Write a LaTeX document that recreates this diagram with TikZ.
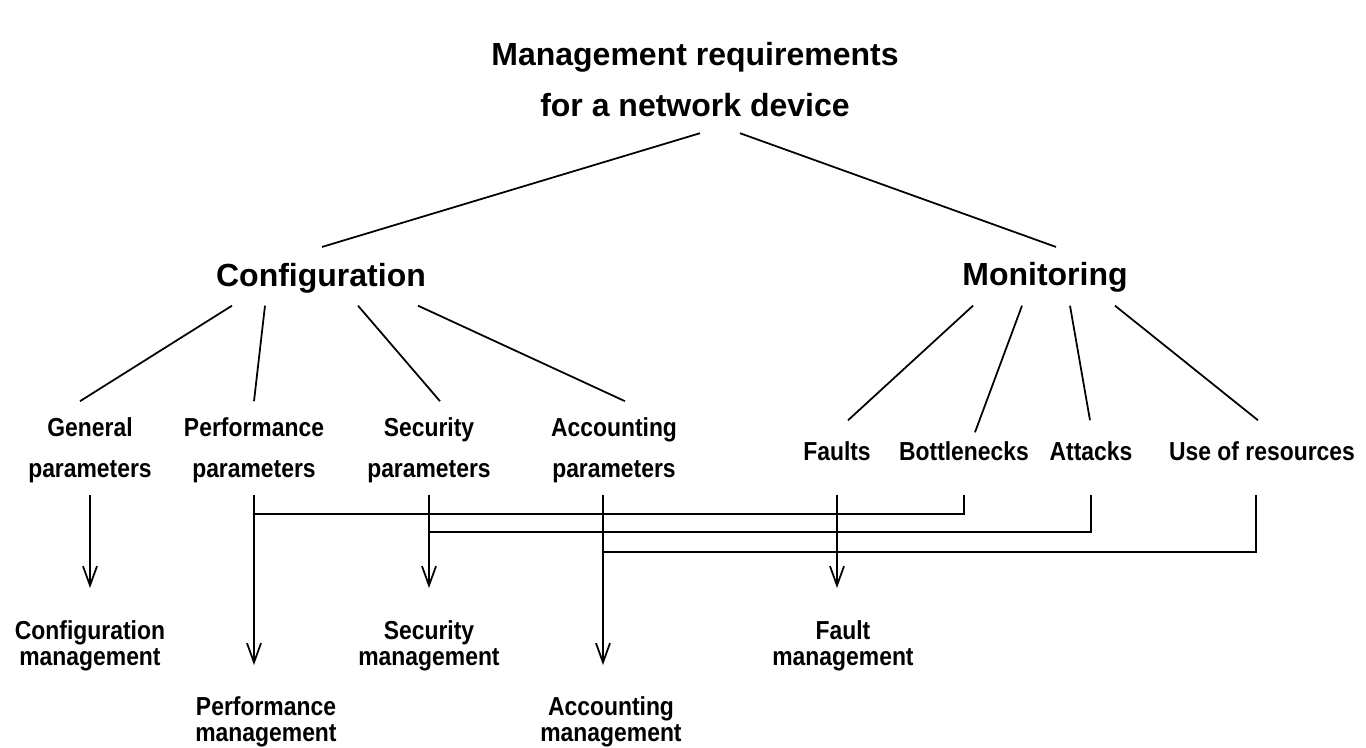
\documentclass[tikz,border=0pt]{standalone}
\usepackage{fontspec}
\setmainfont{Liberation Sans}
\newfontfamily\narrowsans{Liberation Sans}[FakeStretch=0.88]
\usetikzlibrary{calc,arrows.meta}
\tikzset{>={Straight Barb[length=5.5pt,width=4pt]}}

\begin{document}
\begin{tikzpicture}[x=0.01cm,y=-0.01cm,line width=0.5pt,
  every node/.style={inner sep=0pt,anchor=base,align=center},
  heading/.style={font=\bfseries\fontsize{9.1}{14.5}\selectfont},
  branch/.style={font=\bfseries\fontsize{9.1}{11}\selectfont},
  leaf/.style={font=\narrowsans\bfseries\fontsize{7.4}{11.4}\selectfont},
  outcome/.style={font=\narrowsans\bfseries\fontsize{7.4}{7.4}\selectfont}]
  \useasboundingbox (0,0) rectangle (1366,747);
  % title and the two branches
  \node[heading] (title) at (695,116) {Management requirements\\for a network device};
  \node[branch] (config) at (321,286) {Configuration};
  \node[branch] (monitor) at (1045,285) {Monitoring};
  \draw ($(title.south)+(5,16)$) -- ($(config.north)+(1,-15)$);
  \draw ($(title.south)+(45,16)$) -- ($(monitor.north)+(11,-14)$);
  % what is configured
  \node[leaf] (gen) at (90,477) {General\\parameters};
  \node[leaf] (perf) at (254,477) {Performance\\parameters};
  \node[leaf] (sec) at (429,477) {Security\\parameters};
  \node[leaf] (acc) at (614,477) {Accounting\\parameters};
  \draw ($(config.south)+(-89,12)$) -- ($(gen.north)+(-10,-16)$);
  \draw ($(config.south)+(-56,12)$) -- ($(perf.north)+(0,-16)$);
  \draw ($(config.south)+(37,12)$) -- ($(sec.north)+(11,-16)$);
  \draw ($(config.south)+(97,12)$) -- ($(acc.north)+(11,-16)$);
  % what is monitored
  \node[leaf] (faults) at (837,460) {Faults};
  \node[leaf] (bott) at (964,460) {Bottlenecks};
  \node[leaf] (att) at (1091,460) {Attacks};
  \node[leaf] (use) at (1262,460) {Use of resources};
  \draw ($(monitor.south)+(-72,13)$) -- ($(faults.north)+(11,-20)$);
  \draw ($(monitor.south)+(-23,13)$) -- ($(bott.north)+(11,-8)$);
  \draw ($(monitor.south)+(25,13)$) -- ($(att.north)+(-1,-20)$);
  \draw ($(monitor.south)+(70,13)$) -- ($(use.north)+(-4,-20)$);
  % management areas
  \node[outcome] (confm) at (90,665) {Configuration\\management};
  \node[outcome] (perfm) at (266,741) {Performance\\management};
  \node[outcome] (secm) at (429,665) {Security\\management};
  \node[outcome] (accm) at (611,741) {Accounting\\management};
  \node[outcome] (faultm) at (843,665) {Fault\\management};
  % rows of the arrows and feeds
  \coordinate (rowtop) at (0,495);
  \coordinate (rowA) at (0,514);
  \coordinate (rowB) at (0,532);
  \coordinate (rowC) at (0,552);
  \coordinate (tipA) at (0,588);
  \coordinate (tipB) at (0,665);
  \coordinate (accx) at ($(acc.south)+(-11,0)$);
  \coordinate (usex) at ($(use.south)+(-6,0)$);
  \draw[->] (gen |- rowtop) -- (gen |- tipA);
  \draw[->] (perf |- rowtop) -- (perf |- tipB);
  \draw[->] (sec |- rowtop) -- (sec |- tipA);
  \draw[->] (accx |- rowtop) -- (accx |- tipB);
  \draw[->] (faults |- rowtop) -- (faults |- tipA);
  \draw (bott |- rowtop) |- (perf |- rowA);
  \draw (att |- rowtop) |- (sec |- rowB);
  \draw (usex |- rowtop) |- (accx |- rowC);
\end{tikzpicture}
\end{document}
